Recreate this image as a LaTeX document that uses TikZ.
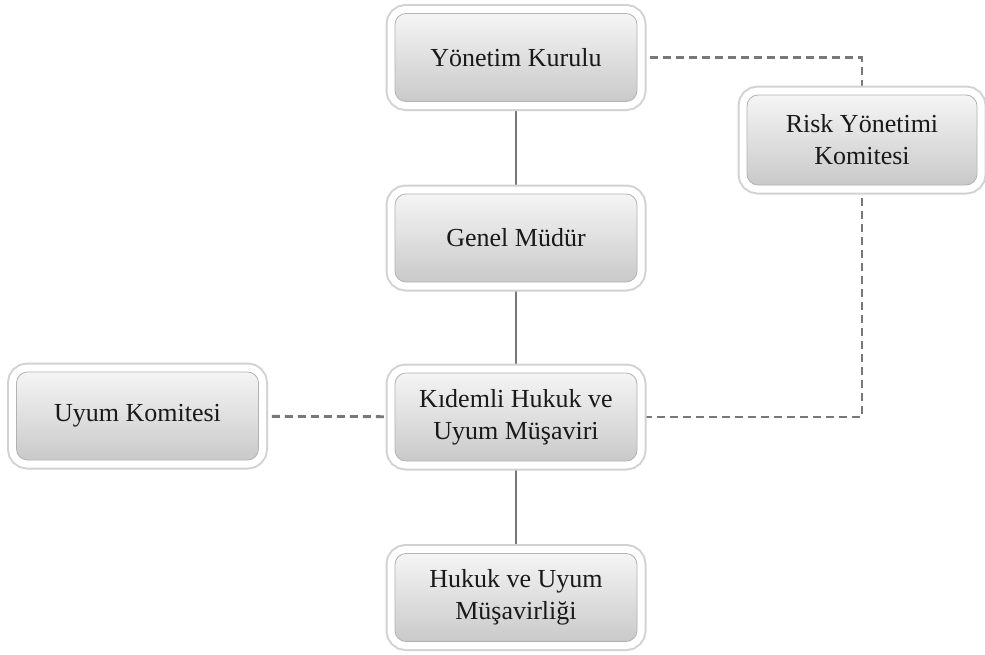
\documentclass[tikz,border=0pt]{standalone}
\usepackage{fontspec}
\setmainfont{Liberation Serif}
\usetikzlibrary{backgrounds}
\begin{document}
\begin{tikzpicture}[x=1pt,y=-1pt,
  orgbox/.style={rounded corners=11pt, minimum width=242pt, minimum height=88pt,
    align=center, inner sep=2pt, text=black!90,
    font=\fontsize{26}{32}\selectfont,
    preaction={draw=gray!35, line width=19pt},
    preaction={draw=white, line width=15pt},
    top color=gray!8, bottom color=gray!42, draw=gray!60, line width=0.8pt},
  solidlink/.style={draw=gray!75!black!85, line width=2.8pt},
  dashlink/.style={draw=gray!75!black!85, line width=2.8pt, dash pattern=on 8pt off 5pt}]
\useasboundingbox (0,0) rectangle (985,654);
\node[orgbox] (yk) at (516,57.5) {Yönetim Kurulu};
\node[orgbox] (gm) at (516,238) {Genel Müdür};
\node[orgbox] (km) at (516,417) {Kıdemli Hukuk ve\\Uyum Müşaviri};
\node[orgbox] (hu) at (516,597.5) {Hukuk ve Uyum\\Müşavirliği};
\node[orgbox] (uk) at (137.5,416) {Uyum Komitesi};
\node[orgbox, minimum width=230pt, minimum height=90pt] (rk) at (862,140) {Risk Yönetimi\\Komitesi};
\begin{scope}[on background layer]
\draw[solidlink] (yk) -- (gm);
\draw[solidlink] (gm) -- (km);
\draw[solidlink] (km) -- (hu);
\draw[dashlink] (uk) -- (km);
\draw[dashlink] (yk.east) -- (yk.east -| rk.north) -- (rk.north);
\draw[dashlink] (rk.south) -- (rk.south |- km.east) -- (km.east);
\end{scope}
\end{tikzpicture}
\end{document}
